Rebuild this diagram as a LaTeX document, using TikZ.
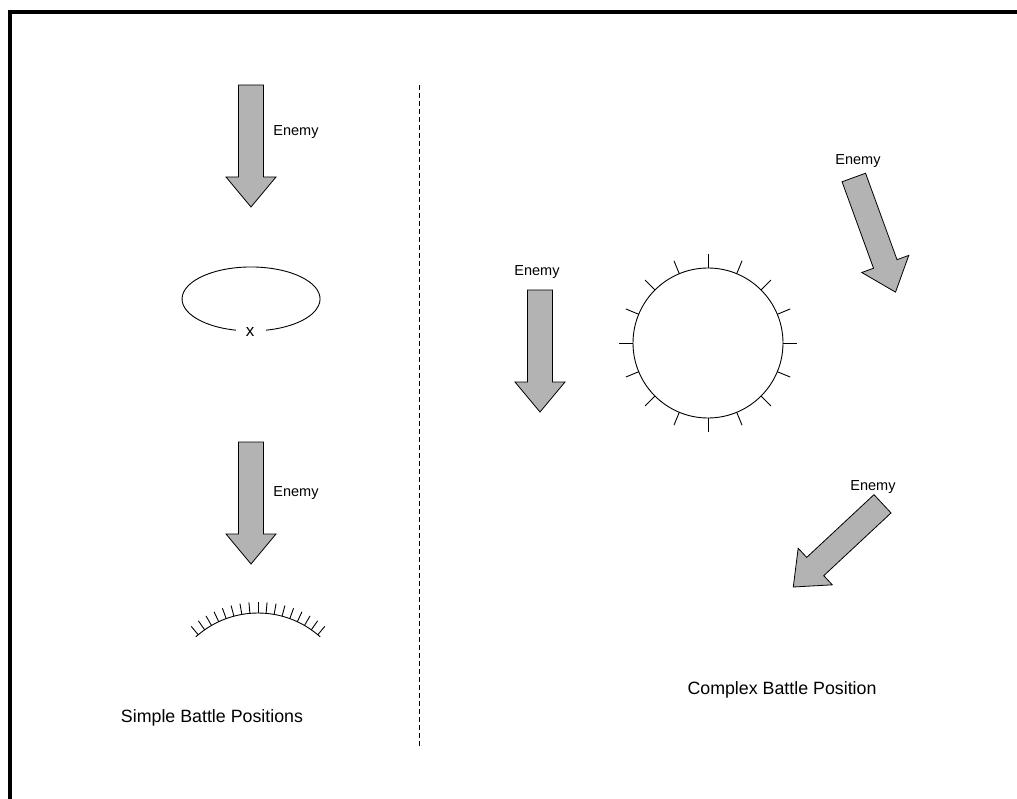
\documentclass[tikz,border=0pt]{standalone}
\usepackage{fontspec}
\setmainfont{Liberation Sans}
\begin{document}
\begin{tikzpicture}[x=1pt,y=-1pt]
\tikzset{
  frameline/.style={line width=4pt, line join=miter},
  outline/.style={draw=black, line width=0.9pt},
  divider/.style={line width=1pt, dash pattern=on 5pt off 3pt},
  enemyfill/.style={draw=black, line width=0.8pt, line join=miter,
    fill={rgb,255:red,179;green,179;blue,179}},
  lbl/.style={font=\fontsize{14.5}{17}\selectfont, inner sep=0pt},
  xlbl/.style={font=\fontsize{17}{20}\selectfont, inner sep=0pt},
  title/.style={font=\fontsize{17.8}{21}\selectfont, inner sep=0pt},
  enemyarrow/.pic={\path[enemyfill] (-12.5,0) -- (12.5,0) -- (12.5,92) -- (25,92)
     -- (0,122) -- (-25,92) -- (-12.5,92) -- cycle;}
}
\useasboundingbox (0,0) rectangle (1017,799);
\fill[white] (0,0) rectangle (1017,799);
% frame
\draw[frameline] (9.5,799) -- (9.5,12) -- (1017,12);
% divider
\draw[divider] (419.5,85) -- (419.5,748);
% arrows
\pic at (251,85) {enemyarrow};
\pic at (251,442) {enemyarrow};
\pic at (540,290) {enemyarrow};
\pic[rotate=20] at (853.8,177.5) {enemyarrow};
\pic[rotate=-47] at (882.5,503.8) {enemyarrow};
% labels
\node[lbl] (e1) at (296,132) {Enemy};
\node[lbl] (e2) at (296,493) {Enemy};
\node[lbl] (e3) at (537,272) {Enemy};
\node[lbl] (e4) at (858,161) {Enemy};
\node[lbl] (e5) at (873,487) {Enemy};
\node[xlbl] (xmark) at (250,332) {x};
\node[title] (simple) at (212,718) {Simple Battle Positions};
\node[title] (complex) at (782,690) {Complex Battle Position};
% open ellipse
\draw[outline] (236,330.2) arc[start angle=102.6, end angle=437.4, x radius=69, y radius=32];
% circle position with ticks
\draw[outline] (708,343) circle[radius=75];
\foreach \a in {0,22.5,...,337.5}
  \draw[outline] ([shift={(\a:75)}]708,343) -- ([shift={(\a:89)}]708,343);
% arc with ticks
\draw[outline] ([shift={(228:93)}]258,706) arc[start angle=228, end angle=312, radius=93];
\foreach \a in {230,235,...,310}
  \draw[outline] ([shift={(\a:93)}]258,706) -- ([shift={(\a:104)}]258,706);
\end{tikzpicture}
\end{document}
